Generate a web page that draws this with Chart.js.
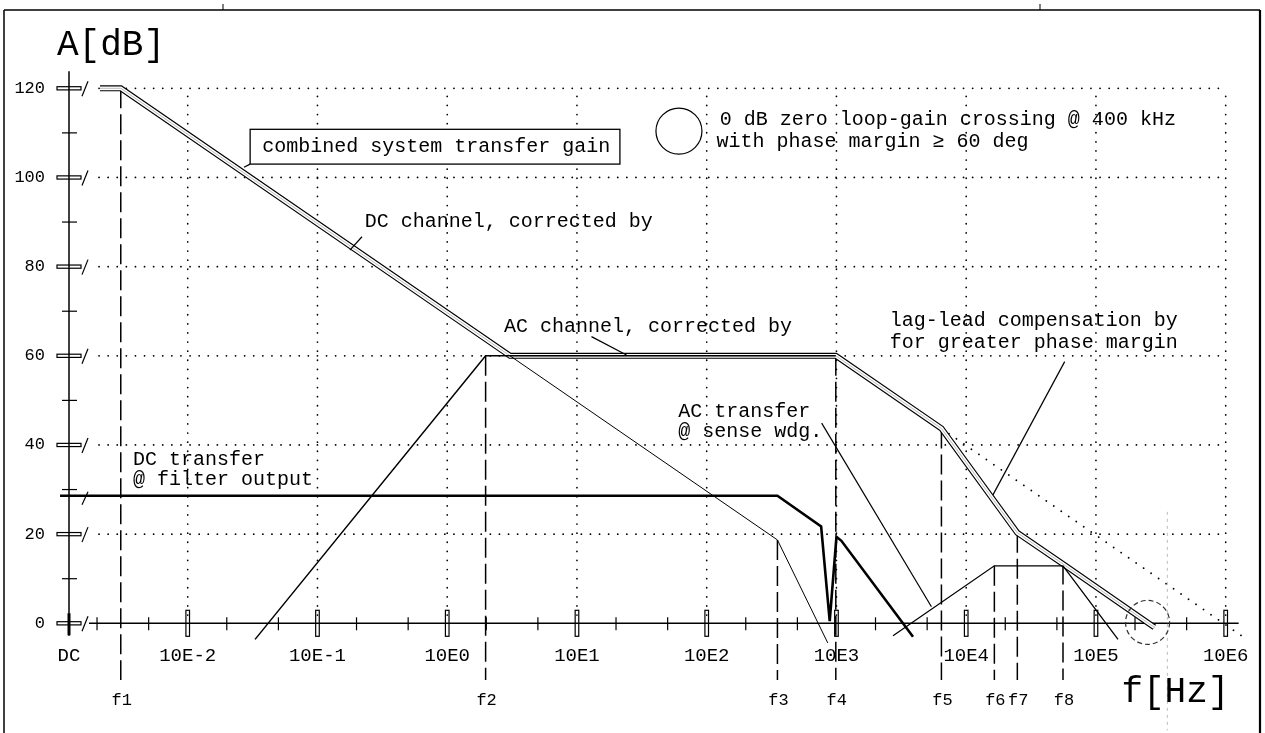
<!DOCTYPE html>
<html>
<head>
<meta charset="utf-8">
<title>Loop gain, DC and AC channel</title>
<script src="https://cdn.jsdelivr.net/npm/chart.js@4.4.0/dist/chart.umd.min.js"></script>
<style>
  html, body { margin: 0; padding: 0; background: #fff; }
</style>
</head>
<body>
<canvas id="bode" width="1265" height="733"></canvas>
<script>
// x is log10(f / Hz), the DC end of the axis sits a little right of 10E-3
const xMin = -2.915, xMax = 6;
const yMin = 0, yMax = 120;

const decadeLog = [-2, -1, 0, 1, 2, 3, 4, 5, 6];
const decadeLabels = ['10E-2', '10E-1', '10E0', '10E1', '10E2', '10E3', '10E4', '10E5', '10E6'];
const dbTicks = [0, 20, 40, 60, 80, 100, 120];
const dbLabels = ['0', '20', '40', '60', '80', '100', '120'];
const dbMinor = [10, 30, 50, 70, 90, 110];

const fNames = ['f1', 'f2', 'f3', 'f4', 'f5', 'f6', 'f7', 'f8'];
const fLog = [-2.516, 0.296, 2.545, 2.995, 3.809, 4.217, 4.394, 4.746];
const fTopDb = [120, 60, 18.7, 60, 43.7, 12.9, 20.3, 13.2];
const fBottomDb = -12.7;

const combinedLog = [-2.676, -2.516, 0.484, 2.995, 3.809, 4.394, 4.746, 5.45];
const combinedDb = [120, 120, 60, 60, 43.7, 20.3, 13.3, -0.9];

const dcChannelLog = [0.484, 2.545, 2.933];
const dcChannelDb = [60, 18.7, -4.4];

const dcTransferLog = [-2.984, 2.545, 2.882, 2.948, 3.0, 3.038, 3.59];
const dcTransferDb = [28.6, 28.6, 21.7, 0.5, 19.4, 18.5, -3.0];

const acTransferLog = [-1.481, 0.296, 2.995];
const acTransferDb = [-3.6, 60, 60];

const lagLeadLog = [3.436, 4.217, 4.746, 5.17];
const lagLeadDb = [-2.8, 12.9, 12.9, -3.6];

const slopeLog = [3.809, 6.147];
const slopeDb = [43.7, -3.3];

// leader lines from the notes to the curves
const leaderLog = [[-0.750, -0.657], [-1.519, -1.566], [1.112, 1.382], [2.886, 3.732], [4.759, 4.206]];
const leaderDb = [[83.7, 86.7], [103.0, 102.3], [64.3, 60.2], [44.9, 3.7], [58.7, 28.8]];

const notes = [
    { text: 'combined system transfer gain', x: -1.426, y: 106.8 },
    { text: 'DC channel, corrected by', x: -0.635, y: 90.0 },
    { text: 'AC channel, corrected by', x: 0.437, y: 66.5 },
    { text: 'AC transfer', x: 1.780, y: 47.5 },
    { text: '@ sense wdg.', x: 1.780, y: 42.9 },
    { text: 'DC transfer', x: -2.421, y: 36.6 },
    { text: '@ filter output', x: -2.421, y: 32.3 },
    { text: 'lag-lead compensation by', x: 3.411, y: 67.9 },
    { text: 'for greater phase margin', x: 3.411, y: 62.9 },
    { text: '0 dB zero loop-gain crossing @ 400 kHz', x: 2.101, y: 112.9 },
    { text: 'with phase margin \u2265 60 deg', x: 2.075, y: 108.0 }
];

const FONT = '"Liberation Mono", "DejaVu Sans Mono", monospace';

function pts(xs, ys) {
    return xs.map((x, i) => ({ x: x, y: ys[i] }));
}

function line(data, width, extra) {
    return Object.assign({
        data: data,
        showLine: true,
        borderColor: '#000',
        borderWidth: width,
        pointRadius: 0,
        tension: 0,
        clip: false,
        borderJoinStyle: 'miter'
    }, extra || {});
}

// back to front
var sets = [];
fLog.forEach((f, i) => {
    sets.push(line(pts([f, f], [fTopDb[i], fBottomDb]), 1.5, { borderDash: [20, 6] }));
});
sets.push(line(pts(slopeLog, slopeDb), 1.8, { borderDash: [0.1, 9], borderCapStyle: 'round' }));
sets.push(line(pts(combinedLog, combinedDb), 6));
sets.push(line(pts(combinedLog, combinedDb), 3.8, { borderColor: '#fff' }));
sets.push(line(pts(combinedLog, combinedDb), 0.8, { borderColor: '#aaa' }));
sets.push(line(pts(acTransferLog, acTransferDb), 1.5));
sets.push(line(pts(dcChannelLog, dcChannelDb), 1));
sets.push(line(pts(dcTransferLog, dcTransferDb), 2.6));
sets.push(line(pts(lagLeadLog, lagLeadDb), 1.3));
leaderLog.forEach((xs, i) => sets.push(line(pts(xs, leaderDb[i]), 1.2)));
sets.push(line(pts([5.55, 5.55], [25, -24]), 1, { borderColor: '#bbb', borderDash: [3, 4] }));
sets.forEach((d, i) => { d.order = sets.length - i; });


// Paper: frame, grid, axes, ticks
const paper = {
    id: 'paper',
    beforeDatasetsDraw(chart) {
        const ctx = chart.ctx;
        const X = v => chart.scales.x.getPixelForValue(v);
        const Y = v => chart.scales.y.getPixelForValue(v);
        const seg = (x1, y1, x2, y2) => {
            ctx.beginPath(); ctx.moveTo(x1, y1); ctx.lineTo(x2, y2); ctx.stroke();
        };
        ctx.save();
        ctx.strokeStyle = '#000';

        // frame
        ctx.lineWidth = 1.5;
        seg(4, 10, 1260, 10);
        seg(4, 10, 4, 733);
        ctx.lineWidth = 2.2;
        seg(1260, 10, 1260, 733);
        ctx.lineWidth = 1;
        seg(223, 4, 223, 10);
        seg(1040, 4, 1040, 10);

        // dotted grid
        ctx.lineWidth = 1.7;
        ctx.lineCap = 'round';
        ctx.setLineDash([0.1, 9]);
        dbTicks.forEach(v => { if (v > 0) seg(X(xMin) + 30, Y(v), X(xMax), Y(v)); });
        decadeLog.forEach(v => seg(X(v), Y(yMax) + 8, X(v), Y(yMin) - 4));
        ctx.setLineDash([]);
        ctx.lineCap = 'butt';

        // y axis
        const x0 = X(xMin), y0 = Y(0);
        ctx.lineWidth = 1.5;
        seg(x0, Y(123.8), x0, Y(-2.8));
        ctx.lineWidth = 3;
        seg(x0, y0 - 10, x0, y0 + 12);
        ctx.lineWidth = 1.2;
        dbTicks.forEach(v => {
            const y = Y(v);
            ctx.strokeRect(x0 - 12, y - 1.6, 24, 3.2);
            seg(x0 + 13, y + 8, x0 + 19, y - 7);
        });
        dbMinor.forEach(v => seg(x0 - 7, Y(v), x0 + 8, Y(v)));
        seg(x0 + 13, Y(28.6) + 9, x0 + 19, Y(28.6) - 4);

        // x axis
        ctx.lineWidth = 1.5;
        seg(x0 + 20, y0, X(6.1), y0);
        ctx.lineWidth = 1.2;
        decadeLog.forEach(v => ctx.strokeRect(X(v) - 1.8, y0 - 13, 3.6, 26));
        for (let d = -3; d <= 5; d++) {
            [Math.log10(2), Math.log10(5)].forEach(m => {
                const v = d + m;
                if (v > xMin) seg(X(v), y0 - 6, X(v), y0 + 7);
            });
        }
        ctx.restore();
    },
    afterDatasetsDraw(chart) {
        const ctx = chart.ctx;
        const X = v => chart.scales.x.getPixelForValue(v);
        const Y = v => chart.scales.y.getPixelForValue(v);
        const x0 = X(xMin), y0 = Y(0);
        ctx.save();
        ctx.fillStyle = '#000';
        ctx.strokeStyle = '#000';

        // box round the first note
        ctx.lineWidth = 1.3;
        ctx.fillStyle = '#fff';
        ctx.fillRect(X(-1.519), Y(110.8), X(1.331) - X(-1.519), Y(103.0) - Y(110.8));
        ctx.strokeRect(X(-1.519), Y(110.8), X(1.331) - X(-1.519), Y(103.0) - Y(110.8));
        ctx.fillStyle = '#000';

        // circles
        ctx.lineWidth = 1.2;
        ctx.beginPath();
        ctx.arc(X(1.786), Y(110.4), 23, 0, Math.PI * 2);
        ctx.stroke();
        ctx.strokeStyle = '#333';
        ctx.setLineDash([5, 3]);
        ctx.beginPath();
        ctx.arc(X(5.398), Y(0.2), 22, 0, Math.PI * 2);
        ctx.stroke();
        ctx.setLineDash([]);

        // tick labels
        ctx.textBaseline = 'middle';
        ctx.font = '17px ' + FONT;
        ctx.textAlign = 'right';
        dbTicks.forEach((v, i) => ctx.fillText(dbLabels[i], x0 - 24, Y(v)));
        ctx.font = '19px ' + FONT;
        ctx.textAlign = 'center';
        ctx.fillText('DC', x0, y0 + 33);
        decadeLog.forEach((v, i) => ctx.fillText(decadeLabels[i], X(v), y0 + 33));
        ctx.font = '17px ' + FONT;
        fLog.forEach((v, i) => ctx.fillText(fNames[i], X(v) + 1, y0 + 77));

        // axis titles
        ctx.textAlign = 'left';
        ctx.font = '36px ' + FONT;
        ctx.fillText('A[dB]', x0 - 12, Y(yMax) - 43);
        ctx.fillText('f[Hz]', X(5.196), y0 + 69);

        // notes
        ctx.font = '20px ' + FONT;
        notes.forEach(n => ctx.fillText(n.text, X(n.x), Y(n.y)));
        ctx.restore();
    }
};

new Chart(document.getElementById('bode'), {
    type: 'scatter',
    data: { datasets: sets },
    options: {
        responsive: false,
        animation: false,
        devicePixelRatio: 1,
        events: [],
        layout: { padding: { left: 69, right: 39.3, top: 88.3, bottom: 109.7 } },
        plugins: { legend: { display: false }, tooltip: { enabled: false } },
        scales: {
            x: { type: 'linear', min: xMin, max: xMax, display: false },
            y: { type: 'linear', min: yMin, max: yMax, display: false }
        }
    },
    plugins: [paper]
});
</script>
</body>
</html>
